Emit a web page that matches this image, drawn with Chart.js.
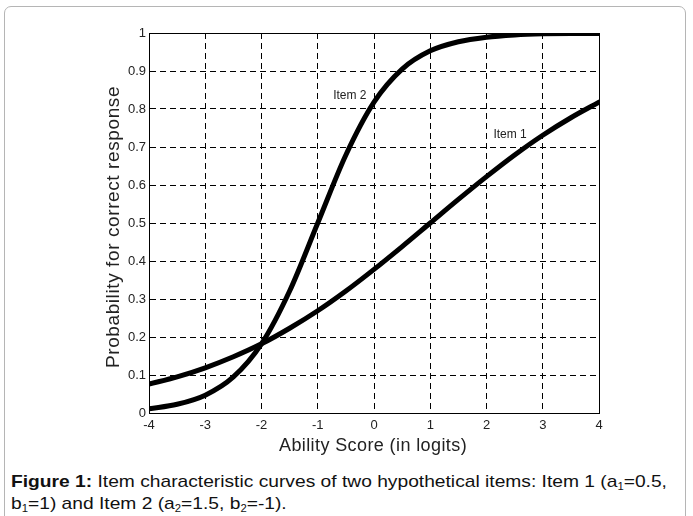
<!DOCTYPE html>
<html>
<head>
<meta charset="utf-8">
<script src="https://cdn.jsdelivr.net/npm/chart.js@4"></script>
<style>
    html, body { margin: 0; padding: 0; background: #fff; }
    body { width: 693px; height: 516px; position: relative; overflow: hidden; }
    .frame {
        position: absolute; left: 4px; top: 6px; width: 682px; height: 520px;
        border: 1px solid #b5b5b5; border-radius: 7px; box-sizing: border-box;
    }
    #wrap { position: absolute; left: 0; top: 0; width: 693px; height: 460px; }
    .caption {
        position: absolute; left: 11px; top: 471px; width: 596px;
        transform: scaleX(1.13); transform-origin: 0 0;
        font-family: "Liberation Sans", Arial, sans-serif; font-size: 17px;
        line-height: 22px; color: #111;
    }
    .caption sub { font-size: 10px; vertical-align: -3px; line-height: 0; }
</style>
</head>
<body>
<div class="frame"></div>
<div id="wrap"><canvas id="icc"></canvas></div>
<div class="caption"><b>Figure 1:</b> Item characteristic curves of two hypothetical items: Item 1 (a<sub>1</sub>=0.5, b<sub>1</sub>=1) and Item 2 (a<sub>2</sub>=1.5, b<sub>2</sub>=-1).</div>
<script>
// Ability scores (logits) and probabilities
const abilities = [-4, -3.5, -3, -2.5, -2, -1.5, -1, -0.5, 0, 0.5, 1, 1.5, 2, 2.5, 3, 3.5, 4];
const item1 = [0.076, 0.095, 0.119, 0.148, 0.182, 0.223, 0.269, 0.321, 0.378, 0.438, 0.5, 0.562, 0.622, 0.679, 0.731, 0.777, 0.818];
const item2 = [0.011, 0.023, 0.047, 0.095, 0.182, 0.321, 0.5, 0.679, 0.818, 0.905, 0.953, 0.977, 0.989, 0.995, 0.998, 0.999, 0.999];
const xTicks = [-4, -3, -2, -1, 0, 1, 2, 3, 4];
const yTicks = [0, 0.1, 0.2, 0.3, 0.4, 0.5, 0.6, 0.7, 0.8, 0.9, 1];
const curveLabels = [
    { text: 'Item 2', x: -0.43, y: 0.834 },
    { text: 'Item 1', x: 2.42, y: 0.733 }
];

const toPoints = ys => abilities.map((x, i) => ({ x: x, y: ys[i] }));
const FONT = '"Liberation Sans", Arial, sans-serif';

// box, axis titles and curve labels
const extras = {
    id: 'extras',
    afterDraw(chart) {
        const { ctx, chartArea: a, scales } = chart;
        ctx.save();
        ctx.strokeStyle = '#000';
        ctx.lineWidth = 1;
        ctx.strokeRect(a.left + 0.5, a.top + 0.5, a.right - a.left, a.bottom - a.top);

        ctx.fillStyle = '#222';
        ctx.font = '12px ' + FONT;
        ctx.textAlign = 'center';
        ctx.textBaseline = 'middle';
        curveLabels.forEach(l => {
            ctx.fillText(l.text, scales.x.getPixelForValue(l.x), scales.y.getPixelForValue(l.y));
        });

        ctx.font = '18px ' + FONT;
        ctx.letterSpacing = '0.4px';
        ctx.fillText('Ability Score (in logits)', (a.left + a.right) / 2 - 1, 446);
        ctx.font = '19px ' + FONT;
        ctx.letterSpacing = '0.6px';
        ctx.translate(114, (a.top + a.bottom) / 2 + 4);
        ctx.rotate(-Math.PI / 2);
        ctx.fillText('Probability for correct response', 0, 0);
        ctx.restore();
    }
};

const gridStyle = {
    color: '#000',
    lineWidth: 1,
    drawTicks: false
};

const tickFont = { size: 13, family: FONT };

new Chart(document.getElementById('icc'), {
    type: 'line',
    data: {
        datasets: [
            { label: 'Item 1', data: toPoints(item1) },
            { label: 'Item 2', data: toPoints(item2) }
        ]
    },
    options: {
        responsive: true,
        maintainAspectRatio: false,
        animation: false,
        devicePixelRatio: 1,
        layout: { padding: { left: 0, top: 33, right: 94, bottom: 0 } },
        elements: {
            line: { borderColor: '#000', borderWidth: 5, cubicInterpolationMode: 'monotone', borderCapStyle: 'round' },
            point: { radius: 0 }
        },
        plugins: { legend: { display: false }, tooltip: { enabled: false } },
        scales: {
            x: {
                type: 'linear', min: -4, max: 4,
                afterBuildTicks: s => { s.ticks = xTicks.map(v => ({ value: v })); },
                afterFit: s => { s.height = 47; },
                grid: gridStyle,
                border: { color: '#000', dash: [6, 4] },
                ticks: { color: '#222', padding: 5, font: tickFont, callback: v => String(v) }
            },
            y: {
                type: 'linear', min: 0, max: 1,
                afterBuildTicks: s => { s.ticks = yTicks.map(v => ({ value: v })); },
                afterFit: s => { s.width = 149; },
                grid: gridStyle,
                border: { color: '#000', dash: [6, 4] },
                ticks: { color: '#222', padding: 3, font: tickFont, callback: v => String(v) }
            }
        }
    },
    plugins: [extras]
});
</script>
</body>
</html>
